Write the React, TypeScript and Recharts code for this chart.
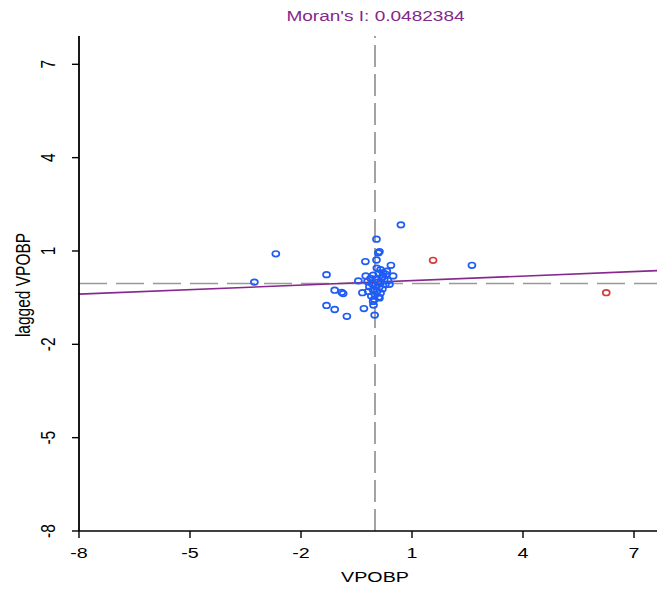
import React from 'react';
import { ScatterChart, Scatter, XAxis, YAxis, ReferenceLine } from 'recharts';

// Moran scatterplot values
const highX = [1.57, 6.25];
const highY = [0.70, -0.34];

const spreadX = [0.70, 2.62, 0.43, 0.49, -2.68, -3.26, -1.31, -1.09, -0.86, -0.90, -1.31, -1.09, -0.76, 0.04, 0.12, 0.09, 0.04, -0.26, -0.45, -0.30, -0.01, -0.34, 0.39, 0.12, -0.05, -0.04];
const spreadY = [1.84, 0.54, 0.54, 0.20, 0.91, 0.00, 0.24, -0.26, -0.37, -0.33, -0.75, -0.88, -1.10, 1.38, 0.98, 0.94, 0.71, 0.66, 0.04, -0.85, -1.06, -0.34, -0.07, -0.51, -0.62, -0.74];

const clusterX = [0.05, 0.15, 0.22, 0.10, -0.05, 0.30, 0.18, -0.12, 0.02, 0.25, 0.35, -0.20, 0.08, 0.15, -0.08, 0.28, 0.00, -0.15, 0.12, 0.20, -0.05, 0.05, -0.18, 0.15, 0.00, -0.10, 0.10, -0.02, 0.22, -0.25, 0.32];
const clusterY = [0.45, 0.40, 0.30, 0.28, 0.22, 0.25, 0.15, 0.12, 0.10, 0.08, 0.05, 0.02, 0.00, -0.02, -0.05, -0.08, -0.12, -0.15, -0.15, -0.22, -0.25, -0.30, -0.30, -0.35, -0.40, -0.45, -0.48, -0.55, 0.18, 0.20, 0.35];

const xTicks = [-8, -5, -2, 1, 4, 7];
const yTicks = [-8, -5, -2, 1, 4, 7];

const moranI = 0.0482384;
const intercept = 0.0;
const meanX = 0.0;
const meanLag = -0.045;

const blueData = [...spreadX, ...clusterX].map((x, i) => ({ x, y: [...spreadY, ...clusterY][i] }));
const redData = highX.map((x, i) => ({ x, y: highY[i] }));

const STRETCH = 1.27;
const FONT = '"Liberation Sans", Arial, sans-serif';

const XTick = (props: any) => {
  const { x, payload } = props;
  return (
    <text transform={`translate(${x},558) scale(${STRETCH},1)`} textAnchor="middle" fontSize={15.5} fontFamily={FONT} fill="#000">
      {payload?.value}
    </text>
  );
};

const YTick = (props: any) => {
  const { y, payload } = props;
  return (
    <text transform={`translate(55,${y}) scale(${STRETCH},1) rotate(-90)`} textAnchor="middle" fontSize={15.5} fontFamily={FONT} fill="#000">
      {payload?.value}
    </text>
  );
};

const ring = (color: string) => (props: any) => (
  <ellipse cx={props.cx} cy={props.cy} rx={3.5} ry={2.8} fill="none" stroke={color} strokeWidth={1.7} />
);

export default function App() {
  return (
    <div style={{ position: 'absolute', left: 0, top: 0, width: 657, height: 589, overflow: 'hidden', background: '#fff' }}>
      <ScatterChart width={671} height={589} margin={{ top: 36, right: 0, bottom: 0, left: 0 }}>
        <XAxis type="number" dataKey="x" domain={[-8, 8]} ticks={xTicks} interval={0} height={58}
          axisLine={{ stroke: '#000', strokeWidth: 1.7 }} tickLine={{ stroke: '#000', strokeWidth: 1.4 }} tickSize={7} tick={<XTick />} />
        <YAxis type="number" dataKey="y" domain={[-8, 7.91]} ticks={yTicks} interval={0} width={79} allowDataOverflow
          axisLine={{ stroke: '#000', strokeWidth: 1.8 }} tickLine={{ stroke: '#000', strokeWidth: 1.4 }} tickSize={7} tick={<YTick />} />
        <ReferenceLine x={meanX} stroke="#999" strokeWidth={1.8} strokeDasharray="22 7" />
        <ReferenceLine y={meanLag} stroke="#999" strokeWidth={1.6} strokeDasharray="28 9" />
        <ReferenceLine segment={[{ x: -8, y: intercept - 8 * moranI }, { x: 8, y: intercept + 8 * moranI }]} stroke="#86288d" strokeWidth={1.6} />
        <Scatter data={blueData} shape={ring('#1e5cf5')} isAnimationActive={false} />
        <Scatter data={redData} shape={ring('#d83a3a')} isAnimationActive={false} />
      </ScatterChart>
      <svg width={657} height={589} style={{ position: 'absolute', left: 0, top: 0, pointerEvents: 'none' }}>
        <text transform={`translate(375.5,20.5) scale(${STRETCH},1)`} textAnchor="middle" fontSize={15} fontFamily={FONT} fill="#84288c">
          {`Moran's I: ${moranI}`}
        </text>
        <text transform={`translate(375,582) scale(${STRETCH},1)`} textAnchor="middle" fontSize={15.5} fontFamily={FONT} fill="#000">
          VPOBP
        </text>
        <text transform={`translate(30,285) scale(${STRETCH},1) rotate(-90)`} textAnchor="middle" fontSize={15.5} fontFamily={FONT} fill="#000">
          lagged VPOBP
        </text>
      </svg>
    </div>
  );
}
